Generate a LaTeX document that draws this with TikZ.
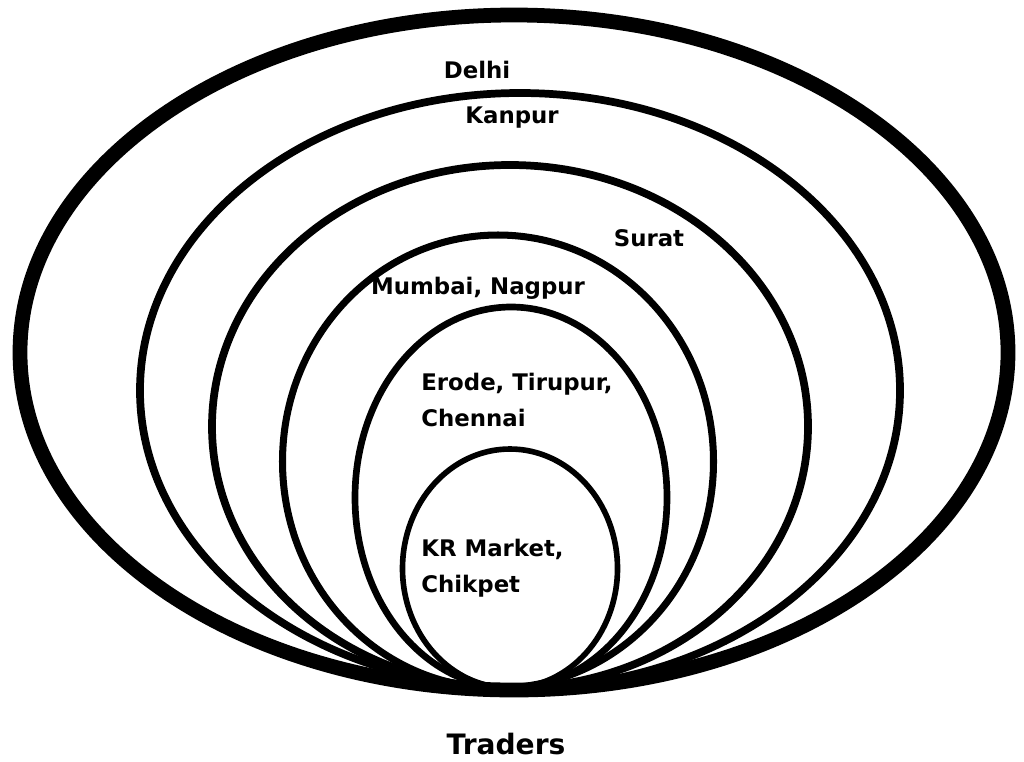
\documentclass[tikz,border=0pt]{standalone}
\usepackage{fontspec}
\setmainfont{DejaVu Sans}

\begin{document}
\begin{tikzpicture}[x=0.02cm, y=-0.02cm,
  ring/.style={draw, line width=4.4pt},
  placename/.style={font=\bfseries\fontsize{13}{20.5}\selectfont, align=left, inner sep=0pt}]

  \useasboundingbox (0,0) rectangle (1024,761);

  % Rings, outer to inner
  \draw[ring, line width=8.4pt] (514,352.5) ellipse [x radius=494, y radius=337.5];
  \draw[ring] (520,390.5) ellipse [x radius=380, y radius=297.5];
  \draw[ring] (510,426.5) ellipse [x radius=298, y radius=261.5];
  \draw[ring, line width=4pt] (498,461.5) ellipse [x radius=215.5, y radius=226.5];
  \draw[ring, line width=3.8pt] (511,497.5) ellipse [x radius=156, y radius=190.5];
  \draw[ring, line width=3.2pt] (510,568.5) ellipse [x radius=107.5, y radius=119.5];

  % Labels
  \node[placename] (delhi) at (477,70) {Delhi};
  \node[placename] (kanpur) at (512,118) {Kanpur};
  \node[placename] (surat) at (649,238) {Surat};
  \node[placename] (mumbai) at (478,288) {Mumbai, Nagpur};
  \node[placename, anchor=west] (erode) at (421,400) {Erode, Tirupur,\\Chennai};
  \node[placename, anchor=west] (krmarket) at (421,568) {KR Market,\\Chikpet};

  % Bottom caption
  \node[placename, font=\bfseries\fontsize{16}{19}\selectfont] (traders) at (506,744) {Traders};

\end{tikzpicture}
\end{document}
